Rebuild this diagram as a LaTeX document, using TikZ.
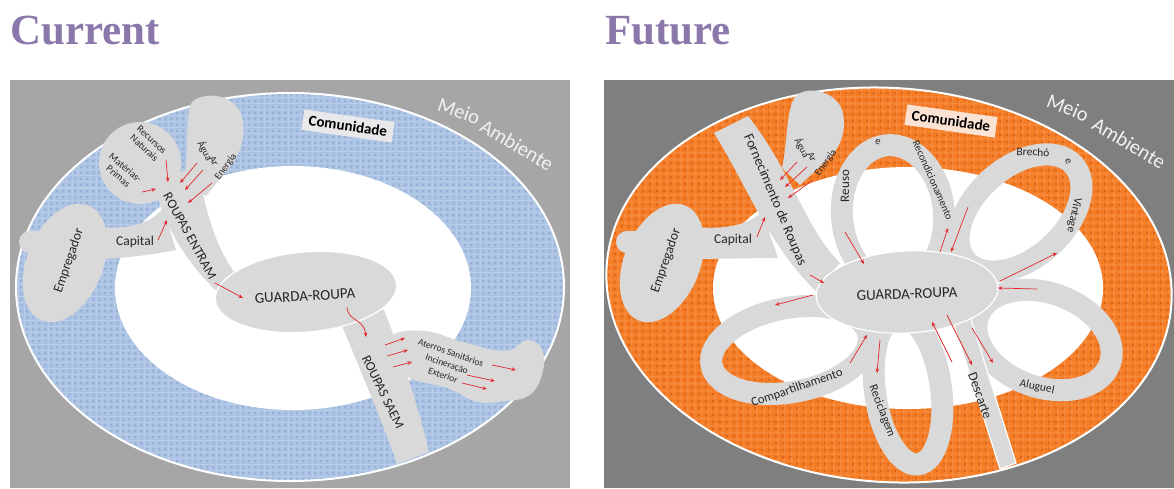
\documentclass[tikz,border=0pt]{standalone}
\usepackage{fontspec}
\setmainfont{Carlito}
\newfontfamily\titlefont{Liberation Serif}
\usetikzlibrary{arrows.meta,patterns.meta}

\definecolor{titlecol}{HTML}{8A78AA}
\definecolor{panelL}{HTML}{A6A6A6}
\definecolor{panelR}{HTML}{7F7F7F}
\definecolor{blueRing}{HTML}{A8C0E1}
\definecolor{blueLine}{HTML}{BACDE8}
\definecolor{blueDot}{HTML}{87A2CF}
\definecolor{orRing}{HTML}{F47B22}
\definecolor{orLine}{HTML}{F6914A}
\definecolor{orDot}{HTML}{C2531A}
\definecolor{shapegray}{HTML}{D9D9D9}
\definecolor{txt}{HTML}{262626}
\definecolor{arrowred}{HTML}{E2262A}
\definecolor{comL}{HTML}{E8E8EA}
\definecolor{comR}{HTML}{FBE2D2}

\tikzset{
  blob/.style={fill=shapegray},
  loopband/.style={draw=shapegray, line width=22pt},
  lbl/.style={text=txt, inner sep=0pt, font=\fontsize{13.5}{13.5}\selectfont},
  small/.style={text=txt, inner sep=0pt, align=center, font=\fontsize{10}{11}\selectfont},
  mid/.style={text=txt, inner sep=0pt, font=\fontsize{11.5}{11.5}\selectfont},
  big/.style={text=txt, inner sep=0pt, font=\fontsize{15}{15}\selectfont},
  env/.style={text=white!95!black, inner sep=0pt, font=\fontsize{20.5}{20.5}\selectfont},
  community/.style={text=black, inner xsep=6pt, inner ysep=5pt, font=\bfseries\fontsize{15}{15}\selectfont},
  flow/.style={draw=arrowred, line width=0.7pt, -{Stealth[length=4.5pt,width=3.6pt]}},
  title/.style={text=titlecol, inner sep=0pt, anchor=base west, font=\titlefont\bfseries\fontsize{43}{43}\selectfont},
}

\begin{document}
\begin{tikzpicture}[x=1pt,y=-1pt]
\useasboundingbox (0,0) rectangle (1174,488);

% ---------- titles ----------
\node[title] (tcur) at (10,44) {Current};
\node[title] (tfut) at (605,44) {Future};

% =====================================================
% Current: linear flow
% =====================================================
\fill[panelL] (10,80) rectangle (570,488);
\fill[blueRing] (290,287) ellipse [x radius=274, y radius=194];
\fill[pattern={Lines[angle=0,distance=6pt,line width=1pt]}, pattern color=blueLine] (290,287) ellipse [x radius=274, y radius=194];
\fill[pattern={Lines[angle=90,distance=6pt,line width=1pt]}, pattern color=blueLine] (290,287) ellipse [x radius=274, y radius=194];
\fill[pattern={Dots[radius=0.9pt,distance=6pt,xshift=3pt,yshift=3pt]}, pattern color=blueDot] (290,287) ellipse [x radius=274, y radius=194];
\draw[white, line width=2pt] (290,287) ellipse [x radius=274, y radius=194];
\fill[white] (293,288) ellipse [x radius=178, y radius=122];

% gray shapes
\fill[blob] (140,163) circle (41);
\fill[blob] (182,186) .. controls (190,160) and (185,125) .. (190,106)
  .. controls (194,92) and (232,90) .. (241,114)
  .. controls (248,134) and (240,158) .. (224,174) -- (206,196) -- cycle;
\fill[blob] (152,178) -- (198,168) .. controls (206,215) and (217,250) .. (237,276)
  -- (222,296) .. controls (195,272) and (172,240) .. (160,205) -- cycle;
\fill[blob] (88,226) .. controls (118,230) and (148,228) .. (163,208)
  -- (176,250) .. controls (150,255) and (120,259) .. (92,259) -- cycle;
\fill[blob, rotate around={68:(65,263)}] (65,263) ellipse [x radius=62, y radius=38];
\fill[blob] (30,242) circle (11);
\fill[blob] (30,231) rectangle (52,253);
\fill[blob] (338,316) -- (384,310) .. controls (398,345) and (418,405) .. (429,452)
  -- (397,464) .. controls (382,420) and (358,365) .. (338,316) -- cycle;
\fill[blob] plot[smooth cycle, tension=0.7] coordinates {(392,336) (425,331) (463,342) (505,351) (528,340) (543,352) (541,378) (528,396) (505,401) (478,402) (447,388) (410,378) (395,360)};
\fill[blob, draw=white, line width=1.2pt, rotate around={5:(306,292)}] (306,292) ellipse [x radius=91, y radius=40];

% labels
\node[community, fill=comL, rotate=-8] (comLeft) at (348,126) {Comunidade};
\node[env, rotate=-19] (meioL) at (459,111) {Meio};
\node[env, rotate=-31] (ambL) at (517,145) {Ambiente};
\node[small, rotate=-43] (recursos) at (148,144) {Recursos\\Naturais};
\node[small, rotate=-40] (materias) at (122,172) {Matérias-\\Primas};
\node[small, rotate=-62] (aguaL) at (205,151) {Água};
\node[small, rotate=-62] (arL) at (214,161) {Ar};
\node[small, rotate=55] (energiaL) at (226,167) {Energia};
\node[lbl, rotate=-61] (entram) at (190,236) {ROUPAS ENTRAM};
\node[lbl] (capitalL) at (135,242) {Capital};
\node[lbl, rotate=71] (empL) at (69,261) {Empregador};
\node[big, rotate=3] (grL) at (305,296) {GUARDA-ROUPA};
\node[lbl, rotate=-64] (saem) at (383,392) {ROUPAS SAEM};
\node[small, font=\fontsize{9.5}{12}\selectfont, rotate=-19] (destinos) at (447,364) {Aterros Sanitários\\Incineração\\Exterior};

% arrows
\coordinate (recA) at (166,160); \coordinate (recB) at (168,182);
\coordinate (matA) at (142,192); \coordinate (matB) at (156,189);
\coordinate (aguaA) at (197,163); \coordinate (aguaB) at (180,183);
\coordinate (arA) at (203,170); \coordinate (arB) at (185,190);
\coordinate (enA) at (212,183); \coordinate (enB) at (188,203);
\coordinate (capA) at (158,240); \coordinate (capB) at (167,220);
\coordinate (inA) at (215,283); \coordinate (inB) at (243,298);
\coordinate (outA) at (347,307); \coordinate (outB) at (366,337);
\coordinate (d1A) at (385,345); \coordinate (d1B) at (405,338);
\coordinate (d2A) at (387,356); \coordinate (d2B) at (408,350);
\coordinate (d3A) at (393,367); \coordinate (d3B) at (412,362);
\coordinate (e1A) at (492,365); \coordinate (e1B) at (516,370);
\coordinate (e2A) at (467,375); \coordinate (e2B) at (495,381);
\coordinate (e3A) at (462,383); \coordinate (e3B) at (487,389);
\draw[flow] (recA) -- (recB);
\draw[flow] (matA) -- (matB);
\draw[flow] (aguaA) -- (aguaB);
\draw[flow] (arA) -- (arB);
\draw[flow] (enA) -- (enB);
\draw[flow] (capA) -- (capB);
\draw[flow] (inA) -- (inB);
\draw[flow] (outA) .. controls (348,322) and (364,318) .. (outB);
\draw[flow] (d1A) -- (d1B);
\draw[flow] (d2A) -- (d2B);
\draw[flow] (d3A) -- (d3B);
\draw[flow] (e1A) -- (e1B);
\draw[flow] (e2A) -- (e2B);
\draw[flow] (e3A) -- (e3B);

% =====================================================
% Future: circular flow
% =====================================================
\fill[panelR] (604,80) rectangle (1174,488);
\begin{scope}[rotate around={-4:(889,285)}]
\fill[orRing] (889,285) ellipse [x radius=283, y radius=197];
\fill[pattern={Lines[angle=0,distance=6.5pt,line width=1.1pt]}, pattern color=orLine] (889,285) ellipse [x radius=283, y radius=197];
\fill[pattern={Lines[angle=90,distance=6.5pt,line width=1.1pt]}, pattern color=orLine] (889,285) ellipse [x radius=283, y radius=197];
\fill[pattern={Dots[radius=1pt,distance=6.5pt,xshift=3.25pt,yshift=3.25pt]}, pattern color=orDot] (889,285) ellipse [x radius=283, y radius=197];
\draw[white, line width=2pt] (889,285) ellipse [x radius=283, y radius=197];
\end{scope}
\fill[white] (908,288) ellipse [x radius=195, y radius=121];

% loops
\draw[loopband, rotate around={5:(893,215)}] (893,215) ellipse [x radius=51, y radius=70];
\draw[loopband, rotate around={42:(1020,213)}] (1020,213) ellipse [x radius=72, y radius=45];
\draw[loopband, rotate around={-20:(1044,340)}] (1044,340) ellipse [x radius=70, y radius=47];
\draw[loopband, rotate around={8:(908,390)}] (908,390) ellipse [x radius=33, y radius=75];
\draw[loopband, rotate around={11:(790,350)}] (790,350) ellipse [x radius=80, y radius=42];

% supply side
\fill[blob] (714,133) .. controls (745,182) and (768,245) .. (816,291)
  -- (840,263) .. controls (805,228) and (792,172) .. (748,116) -- cycle;
\fill[blob] (782,168) .. controls (788,140) and (786,110) .. (795,97)
  .. controls (805,85) and (835,90) .. (842,110)
  .. controls (848,130) and (840,150) .. (825,162) -- (800,185) -- cycle;
\fill[blob] (685,226) .. controls (715,230) and (745,228) .. (762,212)
  -- (778,258) .. controls (750,258) and (720,259) .. (689,259) -- cycle;
\fill[blob, rotate around={68:(662,263)}] (662,263) ellipse [x radius=62, y radius=38];
\fill[blob] (627,242) circle (11);
\fill[blob] (627,231) rectangle (649,253);

% disposal band
\draw[white, line width=1.2pt, fill=shapegray] (953,322) -- (970,316) -- (1016,463) -- (1000,469) -- cycle;

% wardrobe
\fill[blob, draw=white, line width=1.2pt, rotate around={3:(907,292)}] (907,292) ellipse [x radius=91, y radius=41];

% labels
\node[community, fill=comR, rotate=-8] (comRight) at (951,121) {Comunidade};
\node[env, rotate=-22] (meioR) at (1068,108) {Meio};
\node[env, rotate=-31] (ambR) at (1129,143) {Ambiente};
\node[small, rotate=-62] (aguaR) at (802,148) {Água};
\node[small, rotate=-62] (arR) at (812,157) {Ar};
\node[small, rotate=55] (energiaR) at (826,163) {Energia};
\node[lbl, font=\fontsize{14}{14}\selectfont, rotate=-67] (fornec) at (775,200) {Fornecimento de Roupas};
\node[lbl] (capitalR) at (733,240) {Capital};
\node[lbl, rotate=71] (empR) at (666,261) {Empregador};
\node[lbl, font=\fontsize{13}{13}\selectfont, rotate=90] (reuso) at (845,186) {Reuso};
\node[small, font=\fontsize{10.5}{10.5}\selectfont, rotate=-20] (eReuso) at (878,142) {e};
\node[small, font=\fontsize{10.5}{10.5}\selectfont, rotate=-66] (recond) at (933,180) {Recondicionamento};
\node[mid, rotate=-3] (brecho) at (1033,152) {Brechó};
\node[small, font=\fontsize{10.5}{10.5}\selectfont, rotate=-60] (eBrecho) at (1068,162) {e};
\node[mid, rotate=-102] (vintage) at (1074,215) {Vintage};
\node[big, rotate=2] (grR) at (907,294) {GUARDA-ROUPA};
\node[mid, font=\fontsize{12.5}{12.5}\selectfont, rotate=19] (compart) at (797,388) {Compartilhamento};
\node[mid, font=\fontsize{12}{12}\selectfont, rotate=-69] (recicl) at (882,411) {Reciclagem};
\node[lbl, rotate=-70] (descarte) at (980,396) {Descarte};
\node[mid, rotate=-12] (aluguel) at (1037,387) {Aluguel};

% arrows
\coordinate (RaguaA) at (797,162); \coordinate (RaguaB) at (780,180);
\coordinate (RarA) at (807,167); \coordinate (RarB) at (785,187);
\coordinate (RenA) at (813,180); \coordinate (RenB) at (788,198);
\coordinate (RcapA) at (757,237); \coordinate (RcapB) at (765,217);
\coordinate (fornA) at (810,275); \coordinate (fornB) at (824,283);
\coordinate (reuA) at (845,232); \coordinate (reuB) at (864,264);
\coordinate (recoA) at (940,252); \coordinate (recoB) at (948,228);
\coordinate (breA) at (968,207); \coordinate (breB) at (951,252);
\coordinate (vinA) at (1000,281); \coordinate (vinB) at (1057,253);
\coordinate (aluA) at (1037,289); \coordinate (aluB) at (998,288);
\coordinate (alu2A) at (972,328); \coordinate (alu2B) at (993,363);
\coordinate (desA) at (947,315); \coordinate (desB) at (972,365);
\coordinate (recyA) at (952,362); \coordinate (recyB) at (932,322);
\coordinate (recy2A) at (880,340); \coordinate (recy2B) at (877,373);
\coordinate (comA) at (850,363); \coordinate (comB) at (867,335);
\coordinate (com2A) at (813,295); \coordinate (com2B) at (775,305);
\draw[flow] (RaguaA) -- (RaguaB);
\draw[flow] (RarA) -- (RarB);
\draw[flow] (RenA) -- (RenB);
\draw[flow] (RcapA) -- (RcapB);
\draw[flow] (fornA) -- (fornB);
\draw[flow] (reuA) -- (reuB);
\draw[flow] (recoA) -- (recoB);
\draw[flow] (breA) -- (breB);
\draw[flow] (vinA) -- (vinB);
\draw[flow] (aluA) -- (aluB);
\draw[flow] (alu2A) -- (alu2B);
\draw[flow] (desA) -- (desB);
\draw[flow] (recyA) -- (recyB);
\draw[flow] (recy2A) -- (recy2B);
\draw[flow] (comA) -- (comB);
\draw[flow] (com2A) -- (com2B);
\end{tikzpicture}
\end{document}
